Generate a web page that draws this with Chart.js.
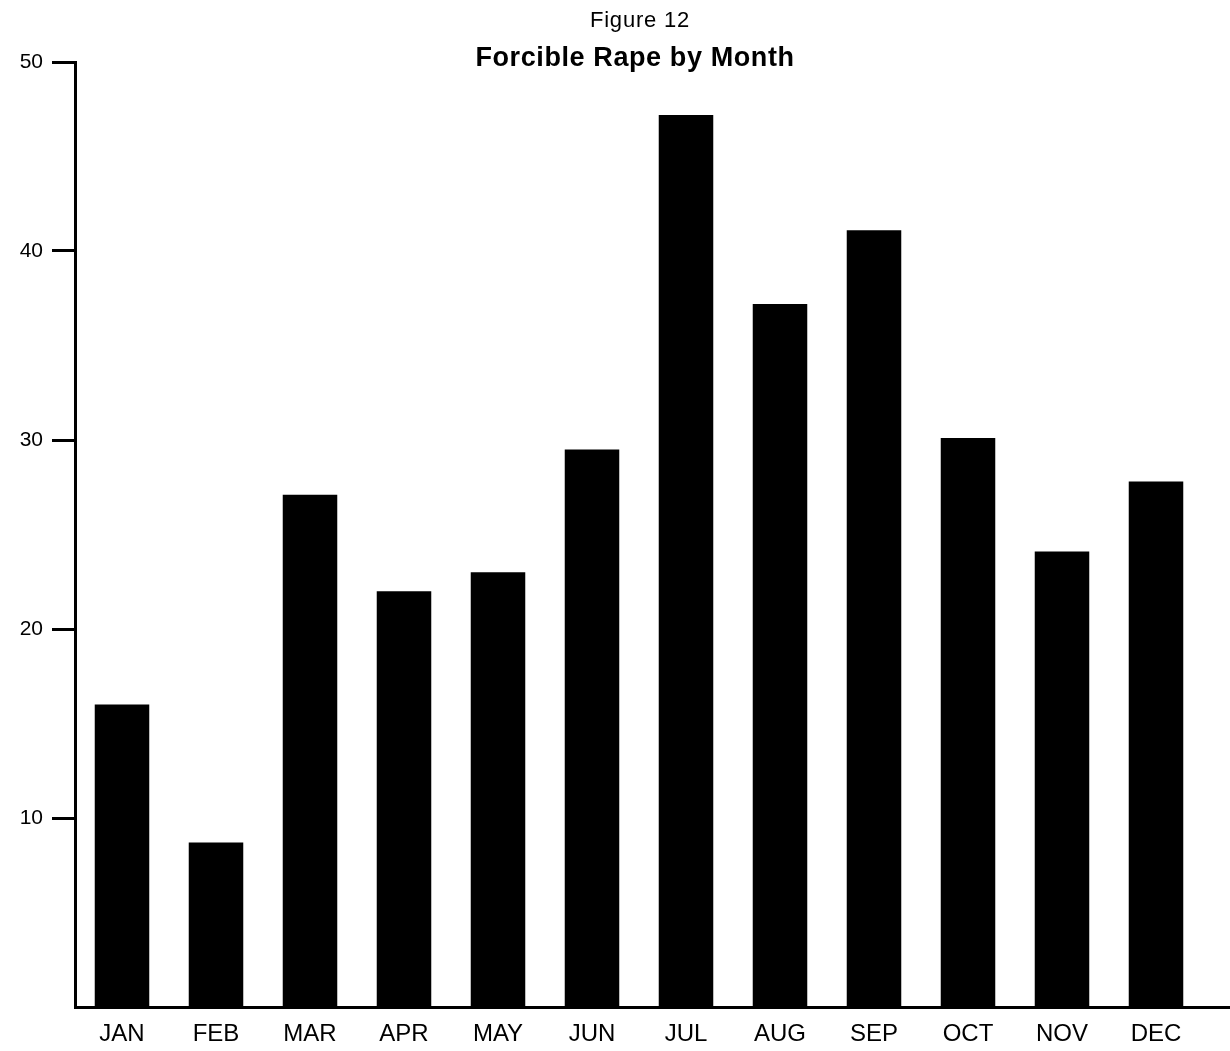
<!DOCTYPE html>
<html>
<head>
<meta charset="utf-8">
<script src="https://cdn.jsdelivr.net/npm/chart.js@4/dist/chart.umd.min.js"></script>
<style>
  html, body { margin: 0; padding: 0; background: #fff; }
  #wrap { width: 1230px; height: 1051px; }
</style>
</head>
<body>
<div id="wrap"><canvas id="canvas" width="1230" height="1051"></canvas></div>
<script>
const months = ["JAN","FEB","MAR","APR","MAY","JUN","JUL","AUG","SEP","OCT","NOV","DEC"];
const rapes = [16, 8.7, 27.1, 22, 23, 29.5, 47.2, 37.2, 41.1, 30.1, 24.1, 27.8];
const yTicks = [10, 20, 30, 40, 50];
const figureLabel = "Figure 12";
const chartTitle = "Forcible Rape by Month";

const FONT = "'Liberation Sans', Arial, Helvetica, sans-serif";

// titles sit over the top of the plot, so draw them by hand
const titlePlugin = {
  id: 'titles',
  afterDraw(chart) {
    const ctx = chart.ctx;
    ctx.save();
    ctx.fillStyle = '#000';
    ctx.textAlign = 'center';
    ctx.textBaseline = 'middle';
    ctx.font = "22px " + FONT;
    ctx.letterSpacing = '0.8px';
    ctx.fillText(figureLabel, 640, 21);
    ctx.font = "bold 27px " + FONT;
    ctx.letterSpacing = '0.6px';
    ctx.fillText(chartTitle, 635, 59);
    // baseline runs on past the last bar
    const a = chart.chartArea;
    ctx.strokeStyle = '#000';
    ctx.lineWidth = 3;
    ctx.beginPath();
    ctx.moveTo(a.right - 2, a.bottom + 0.5);
    ctx.lineTo(chart.width, a.bottom + 0.5);
    ctx.stroke();
    ctx.restore();
  }
};

new Chart(document.getElementById("canvas"), {
  type: 'bar',
  data: {
    labels: months,
    datasets: [{
      label: "Forcible rape",
      data: rapes,
      backgroundColor: "#000",
      borderWidth: 0,
      barPercentage: 0.58,
      categoryPercentage: 1
    }]
  },
  options: {
    responsive: false,
    animation: false,
    layout: { padding: { top: 62, right: 27, left: 0, bottom: 0 } },
    plugins: {
      legend: { display: false },
      title: { display: false },
      tooltip: { enabled: false }
    },
    scales: {
      x: {
        grid: { display: false, drawTicks: false },
        border: { color: '#000', width: 3 },
        ticks: { color: '#000', font: { family: FONT, size: 24 }, padding: 13, maxRotation: 0 },
        afterFit(s) { s.height = 44; }
      },
      y: {
        min: 0,
        max: 50,
        afterBuildTicks(s) { s.ticks = yTicks.map(v => ({ value: v })); },
        grid: { drawOnChartArea: false, drawTicks: true, tickLength: 23, tickWidth: 3, color: '#000' },
        border: { color: '#000', width: 3 },
        ticks: { color: '#000', font: { family: FONT, size: 21 }, padding: 9 },
        afterFit(s) { s.width = 75; }
      }
    }
  },
  plugins: [titlePlugin]
});
</script>
</body>
</html>
